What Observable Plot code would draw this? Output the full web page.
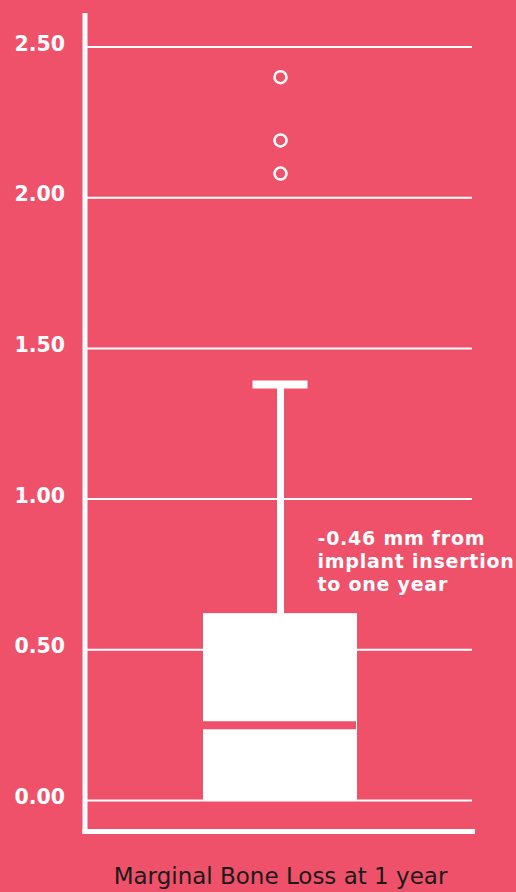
<!DOCTYPE html>
<html>
<head>
<meta charset="utf-8">
<script src="https://cdn.jsdelivr.net/npm/d3@7"></script>
<script src="https://cdn.jsdelivr.net/npm/@observablehq/plot@0.6"></script>
<style>
  html, body { margin: 0; padding: 0; background: #F0516A; }
  #chart svg { display: block; }
</style>
</head>
<body>
<div id="chart"></div>
<script>
// ---- data ----
const category = ["Marginal Bone Loss at 1 year"];
const q1 = [0.0];
const median = [0.25];
const q3 = [0.62];
const whiskerHigh = [1.38];
const outliers = [2.40, 2.19, 2.08];
const yTicks = [0, 0.5, 1.0, 1.5, 2.0, 2.5];
const annotation = ["-0.46 mm from", "implant insertion", "to one year"];

const BG = "#F0516A";
const FONT = "'DejaVu Sans', sans-serif";

const box = category.map((c, i) => ({c, q1: q1[i], median: median[i], q3: q3[i], hi: whiskerHigh[i]}));
const outs = outliers.map(v => ({c: category[0], v}));

const chart = Plot.plot({
  width: 516,
  height: 892,
  marginLeft: 84.5,
  marginRight: 44,
  marginTop: 15,
  marginBottom: 61,
  style: {background: BG, fontFamily: FONT, overflow: "visible"},
  x: {domain: category, range: [87, 472], paddingOuter: 0.742, paddingInner: 0, axis: null},
  y: {domain: [0, 2.5], range: [800, 46.5], axis: null},
  marks: [
    Plot.ruleY(yTicks, {stroke: "white", strokeWidth: 2}),
    Plot.frame({anchor: "left", stroke: "white", strokeWidth: 5}),
    Plot.frame({anchor: "bottom", stroke: "white", strokeWidth: 5}),
    Plot.axisY({ticks: yTicks, tickSize: 0, tickPadding: 20, tickFormat: d3.format(".2f"),
      fontSize: 20.5, fontWeight: "bold", fill: "white", dy: -3, label: null}),
    Plot.axisX({tickSize: 0, tickPadding: 36, fontSize: 23, fill: "#1a1a1a", label: null}),
    // whisker
    Plot.ruleX(box, {x: "c", y1: "q3", y2: "hi", stroke: "white", strokeWidth: 7}),
    Plot.tickY(box, {x: "c", y: "hi", stroke: "white", strokeWidth: 8, insetLeft: 49.5, insetRight: 49.5}),
    // box
    Plot.barY(box, {x: "c", y1: "q1", y2: "q3", fill: "white"}),
    Plot.tickY(box, {x: "c", y: "median", stroke: BG, strokeWidth: 8, insetRight: 1}),
    // outliers
    Plot.dot(outs, {x: "c", y: "v", r: 6, stroke: "white", strokeWidth: 2.5, fill: "none"}),
    // annotation
    Plot.text(box, {x: "c", y: "q3", text: () => annotation.join("\n"), textAnchor: "start",
      lineAnchor: "bottom", dx: 37, dy: -23, fill: "white", fontSize: 19, fontWeight: "bold", lineHeight: 1.21})
  ]
});
d3.select(chart).selectAll("g[aria-label='text'] text").style("letter-spacing", "0.75px");
document.getElementById("chart").append(chart);
</script>
</body>
</html>
